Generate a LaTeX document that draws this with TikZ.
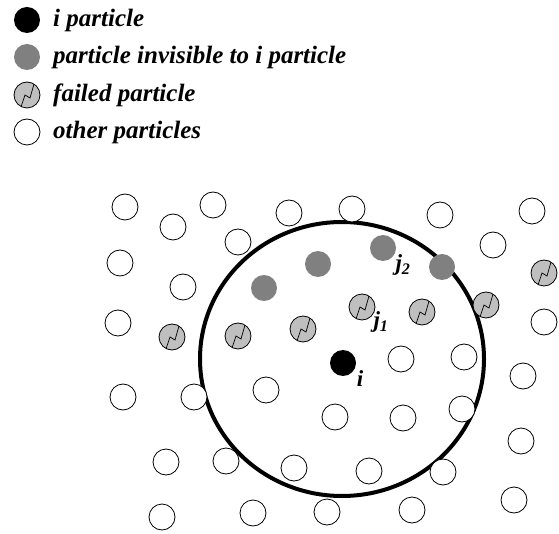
\documentclass[tikz,border=0pt]{standalone}
\usepackage{fontspec}
\setmainfont{Liberation Serif}
\begin{document}
\begin{tikzpicture}[x=1pt,y=-1pt,
  part/.style={circle,minimum size=26pt,inner sep=0pt,line width=0.8pt},
  other/.style={part,draw=black,fill=white},
  inv/.style={part,fill=black!50},
  ipart/.style={part,fill=black},
  failed/.style={part,draw=black,fill=black!25,
    path picture={\draw[line width=0.7pt] ([shift={(-6pt,-12pt)}]path picture bounding box.center) -- ++(4pt,12pt) -- ++(5pt,-3pt) -- ++(4pt,14pt);}},
  legtext/.style={anchor=west,font=\bfseries\itshape\fontsize{25}{30}\selectfont,inner sep=0pt},
  lbl/.style={font=\bfseries\itshape\fontsize{23}{27}\selectfont,inner sep=0pt}]
\useasboundingbox (0,0) rectangle (559,534);
% legend
\node[ipart] (l1) at (27,20) {};
\node[inv] (l2) at (27,57) {};
\node[failed] (l3) at (27,95) {};
\node[other] (l4) at (27,132) {};
\node[legtext] (t1) at (53,20) {i particle};
\node[legtext] (t2) at (53,57) {particle invisible to i particle};
\node[legtext] (t3) at (53,95) {failed particle};
\node[legtext] (t4) at (53,132) {other particles};
% big circle
\draw[line width=4pt] (342,359) ellipse [x radius=142, y radius=137];
% other particles
\foreach \x/\y [count=\n] in {125/207,173/227,213/205,289/213,352/209,440/215,532/211,
  238/242,493/245,120/263,183/287,118/323,544/322,
  123/397,194/397,266/390,401/359,464/357,523/376,
  335/417,403/418,462/409,521/441,
  166/462,226/461,294/468,369/471,443/472,514/500,
  162/517,253/513,327/512,412/510}
  \node[other] (o\n) at (\x,\y) {};
% invisible
\foreach \x/\y [count=\n] in {264/288,318/264,383/248,442/267}
  \node[inv] (g\n) at (\x,\y) {};
% failed
\foreach \x/\y [count=\n] in {172/337,238/336,303/329,362/307,422/312,486/305,544/273}
  \node[failed] (f\n) at (\x,\y) {};
% i particle
\node[ipart] (ip) at (343,363) {};
% labels
\node[lbl] (lj2) at (403,265) {j\textsubscript{2}};
\node[lbl] (lj1) at (381,322) {j\textsubscript{1}};
\node[lbl] (li) at (360,379) {i};
\end{tikzpicture}
\end{document}
